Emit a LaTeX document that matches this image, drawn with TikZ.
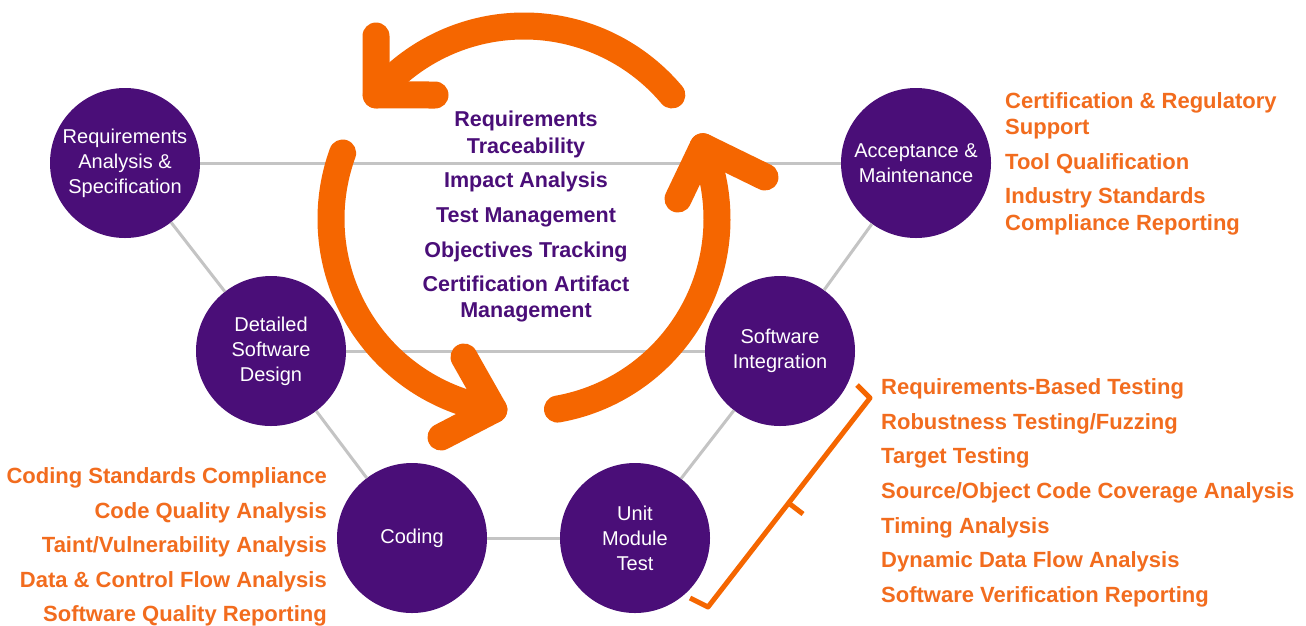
\documentclass[tikz,border=0pt]{standalone}
\usepackage{fontspec}
\setmainfont{Liberation Sans}
\usetikzlibrary{calc}
\definecolor{vpurple}{HTML}{4A0E78}
\definecolor{vorange}{HTML}{F56600}
\definecolor{torange}{HTML}{F26C1E}
\definecolor{lgray}{HTML}{C4C4C4}
\begin{document}
\begin{tikzpicture}[x=1pt,y=-1pt,
  stage/.style={circle, fill=vpurple, minimum size=150pt, inner sep=0pt, text=white, align=center, font=\fontsize{20}{25}\selectfont},
  link/.style={draw=lgray, line width=3pt},
  cyc/.style={draw=vorange, line width=27pt, line cap=round, line join=round},
  otext/.style={text=torange, font=\bfseries\fontsize{22}{26}\selectfont, inner sep=0pt},
  ptext/.style={text=vpurple, font=\bfseries\fontsize{21.5}{26}\selectfont, inner sep=0pt, anchor=base},
  brk/.style={draw=vorange, line width=5pt, line join=round, line cap=butt}
]
\useasboundingbox (0,0) rectangle (1306,625);
\fill[white] (0,0) rectangle (1306,625);

% stages
\node[stage] (ra)  at (125,163) {Requirements\\Analysis \&\\Specification};
\node[stage] (dsd) at (271,351) {Detailed\\Software\\Design};
\node[stage] (cod) at (412,538) {Coding};
\node[stage] (umt) at (635,538) {Unit\\Module\\Test};
\node[stage] (si)  at (780,351) {Software\\Integration};
\node[stage] (am)  at (916,163) {Acceptance \&\\Maintenance};

% links
\draw[link] (ra) -- (am);
\draw[link] (dsd) -- (si);
\draw[link] (cod) -- (umt);
\draw[link] (ra) -- (dsd);
\draw[link] (dsd) -- (cod);
\draw[link] (am) -- (si);
\draw[link] (si) -- (umt);

% cycle arrows
\coordinate (c) at (524,219);
\draw[cyc] ($(c)+(-40:193)$) arc[start angle=-40, end angle=-140, radius=193];
\draw[cyc] (376,36) -- ($(c)+(-140:193)$) -- (435,95);
\draw[cyc] ($(c)+(-160:193)$) arc[start angle=-160, end angle=-261, radius=193];
\draw[cyc] (464,357) -- ($(c)+(-261:193)$) -- (441,437);
\draw[cyc] ($(c)+(-280:193)$) arc[start angle=-280, end angle=-382, radius=193];
\draw[cyc] (678,199) -- ($(c)+(-382:193)$) -- (765,177);

% center text
\node[ptext] (t1) at (526,126) {Requirements};
\node[ptext] (t2) at (526,153) {Traceability};
\node[ptext] (t3) at (526,187) {Impact Analysis};
\node[ptext] (t4) at (526,222) {Test Management};
\node[ptext] (t5) at (526,257) {Objectives Tracking};
\node[ptext] (t6) at (526,291) {Certification Artifact};
\node[ptext] (t7) at (526,317) {Management};

% top right list
\node[otext, anchor=base west] (a1) at (1005,108) {Certification \& Regulatory};
\node[otext, anchor=base west] (a2) at (1005,134) {Support};
\node[otext, anchor=base west] (a3) at (1005,169) {Tool Qualification};
\node[otext, anchor=base west] (a4) at (1005,203) {Industry Standards};
\node[otext, anchor=base west] (a5) at (1005,230) {Compliance Reporting};

% bottom left list
\node[otext, anchor=base east] (l1) at (327,483) {Coding Standards Compliance};
\node[otext, anchor=base east] (l2) at (327,518) {Code Quality Analysis};
\node[otext, anchor=base east] (l3) at (327,552) {Taint/Vulnerability Analysis};
\node[otext, anchor=base east] (l4) at (327,587) {Data \& Control Flow Analysis};
\node[otext, anchor=base east] (l5) at (327,621) {Software Quality Reporting};

% bottom right list
\node[otext, anchor=base west] (r1) at (881,394) {Requirements-Based Testing};
\node[otext, anchor=base west] (r2) at (881,429) {Robustness Testing/Fuzzing};
\node[otext, anchor=base west] (r3) at (881,463) {Target Testing};
\node[otext, anchor=base west] (r4) at (881,498) {Source/Object Code Coverage Analysis};
\node[otext, anchor=base west] (r5) at (881,533) {Timing Analysis};
\node[otext, anchor=base west] (r6) at (881,567) {Dynamic Data Flow Analysis};
\node[otext, anchor=base west] (r7) at (881,602) {Software Verification Reporting};

% bracket
\coordinate (b1) at (857,385);
\coordinate (b2) at (870,398);
\coordinate (b3) at (708,607);
\coordinate (b4) at (690,598);
\coordinate (bm) at (788.6,503);
\coordinate (bt) at (803,514);
\draw[brk] (b1) -- (b2) -- (b3) -- (b4);
\draw[brk] (bm) -- (bt);
\end{tikzpicture}
\end{document}
